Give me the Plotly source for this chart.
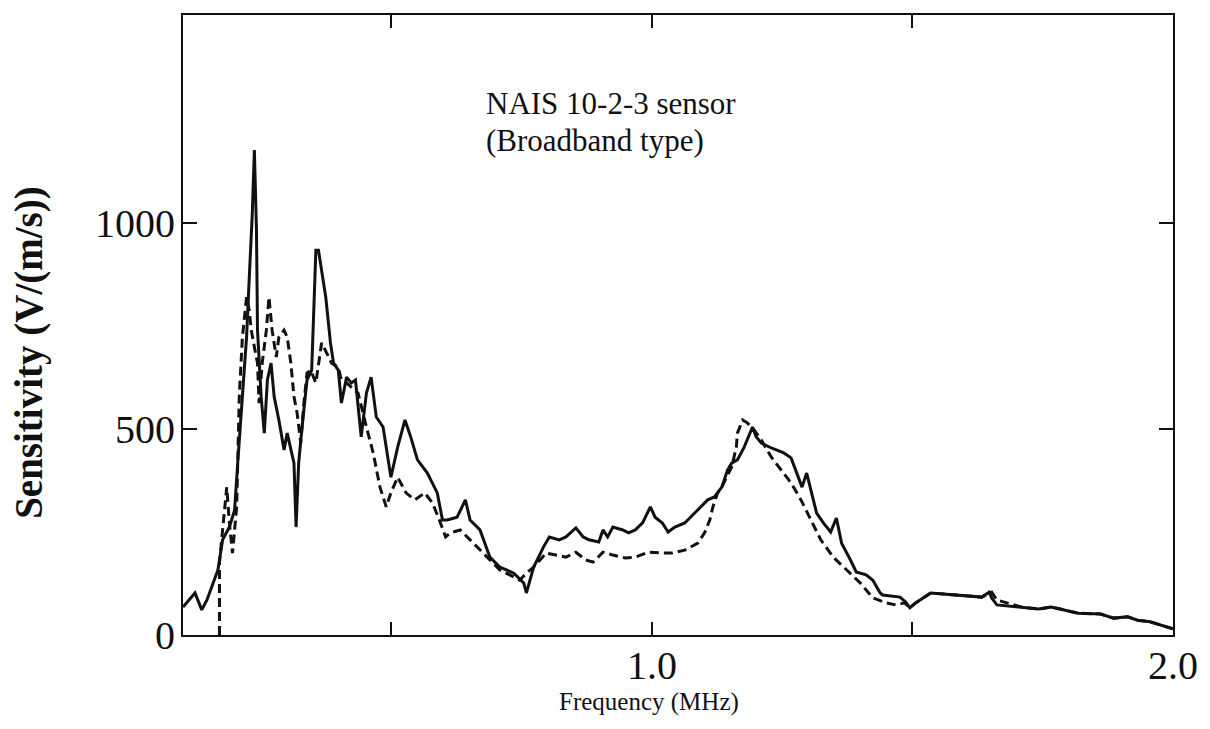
import plotly.graph_objects as go

# Frequency (MHz) and sensitivity (V/(m/s))
solid_x = [0.100, 0.123, 0.136, 0.146, 0.167, 0.176, 0.189, 0.199, 0.205, 0.214,
           0.222, 0.227, 0.233, 0.237, 0.241, 0.243, 0.246, 0.250, 0.256, 0.262,
           0.269, 0.275, 0.284, 0.294, 0.300, 0.313, 0.317, 0.322, 0.328, 0.338,
           0.347, 0.355, 0.360, 0.374, 0.383, 0.389, 0.398, 0.404, 0.414, 0.423,
           0.431, 0.442, 0.452, 0.461, 0.471, 0.484, 0.499, 0.512, 0.526, 0.537,
           0.550, 0.569, 0.588, 0.598, 0.607, 0.626, 0.642, 0.651, 0.670, 0.689,
           0.708, 0.735, 0.754, 0.759, 0.773, 0.792, 0.803, 0.822, 0.835, 0.854,
           0.868, 0.879, 0.898, 0.906, 0.915, 0.925, 0.944, 0.955, 0.968, 0.982,
           0.997, 1.006, 1.020, 1.031, 1.044, 1.063, 1.082, 1.107, 1.120, 1.134,
           1.145, 1.153, 1.164, 1.177, 1.193, 1.200, 1.210, 1.229, 1.253, 1.267,
           1.278, 1.288, 1.297, 1.307, 1.316, 1.329, 1.343, 1.354, 1.364, 1.381,
           1.392, 1.411, 1.424, 1.438, 1.443, 1.476, 1.487, 1.495, 1.506, 1.535,
           1.582, 1.633, 1.647, 1.652, 1.662, 1.709, 1.742, 1.766, 1.791, 1.818,
           1.861, 1.886, 1.913, 1.932, 1.956, 1.975, 1.994, 2.000]
solid_y = [68, 102, 61, 85, 158, 231, 262, 303, 417, 578,
           723, 862, 1024, 1177, 983, 740, 675, 578, 490, 619,
           660, 578, 522, 449, 490, 417, 262, 417, 498, 619,
           643, 934, 934, 820, 709, 660, 643, 563, 626, 612,
           619, 481, 587, 626, 529, 505, 383, 456, 522, 481,
           425, 393, 345, 279, 279, 286, 328, 279, 255, 189,
           165, 150, 126, 102, 165, 214, 238, 231, 238, 260,
           238, 231, 226, 255, 238, 262, 255, 248, 255, 272,
           311, 286, 272, 250, 262, 272, 296, 328, 335, 359,
           400, 417, 425, 456, 505, 481, 466, 454, 442, 430,
           393, 359, 393, 345, 296, 272, 250, 284, 223, 182,
           153, 146, 133, 102, 97, 92, 80, 66, 78, 102,
           97, 92, 104, 90, 73, 68, 63, 68, 61, 53,
           51, 41, 44, 36, 32, 24, 17, 15]

dashed_x = [0.170, 0.170, 0.176, 0.184, 0.189, 0.195, 0.203, 0.205, 0.208, 0.214,
            0.222, 0.227, 0.231, 0.237, 0.243, 0.246, 0.252, 0.260, 0.265, 0.271,
            0.279, 0.284, 0.294, 0.300, 0.307, 0.313, 0.319, 0.326, 0.332, 0.338,
            0.345, 0.355, 0.360, 0.366, 0.376, 0.385, 0.398, 0.404, 0.414, 0.423,
            0.436, 0.452, 0.465, 0.478, 0.490, 0.499, 0.512, 0.528, 0.545, 0.564,
            0.579, 0.592, 0.604, 0.613, 0.632, 0.651, 0.670, 0.689, 0.708, 0.735,
            0.746, 0.759, 0.773, 0.797, 0.816, 0.835, 0.854, 0.873, 0.887, 0.906,
            0.925, 0.949, 0.968, 0.993, 1.020, 1.039, 1.063, 1.088, 1.101, 1.111,
            1.117, 1.126, 1.134, 1.153, 1.162, 1.164, 1.174, 1.183, 1.196, 1.210,
            1.229, 1.248, 1.267, 1.286, 1.305, 1.324, 1.348, 1.373, 1.400, 1.424,
            1.449, 1.468, 1.485, 1.495, 1.506, 1.535, 1.582, 1.633, 1.652, 1.662,
            1.709, 1.742, 1.766, 1.791, 1.818, 1.861, 1.886, 1.913, 1.932, 1.956,
            1.975, 1.994, 2.000]
dashed_y = [0, 175, 255, 359, 272, 199, 311, 417, 578, 723,
            820, 789, 740, 699, 660, 563, 660, 740, 820, 740,
            675, 723, 740, 723, 660, 578, 539, 466, 563, 636,
            643, 612, 660, 709, 684, 660, 650, 619, 612, 602,
            587, 505, 442, 359, 311, 345, 383, 345, 328, 345,
            320, 279, 238, 248, 255, 231, 206, 182, 158, 141,
            133, 150, 165, 199, 194, 189, 201, 182, 177, 201,
            194, 187, 189, 201, 199, 199, 206, 223, 248, 279,
            311, 345, 359, 408, 456, 490, 522, 515, 498, 473,
            432, 400, 369, 328, 279, 231, 189, 158, 126, 90,
            78, 73, 78, 66, 78, 102, 97, 92, 104, 85,
            68, 63, 68, 61, 53, 51, 41, 44, 36, 32,
            24, 17, 15]

x_ticks = [1.0, 2.0]
x_tick_labels = ["1.0", "2.0"]
x_minor_ticks = [0.5, 1.5]
y_ticks = [0, 500, 1000]
y_tick_labels = ["0", "500", "1000"]

SERIF = "Liberation Serif, Times New Roman, serif"
INK = "#111111"

fig = go.Figure()
fig.add_trace(go.Scatter(x=dashed_x, y=dashed_y, mode="lines",
                         line=dict(color=INK, width=3, dash="9px,5px"),
                         showlegend=False))
fig.add_trace(go.Scatter(x=solid_x, y=solid_y, mode="lines",
                         line=dict(color=INK, width=3),
                         showlegend=False))

fig.update_layout(
    width=1210, height=729,
    margin=dict(l=183, r=27, t=15, b=94),
    paper_bgcolor="white", plot_bgcolor="white",
    font=dict(family=SERIF, color=INK),
    xaxis=dict(range=[0.1, 2.0], showgrid=False, zeroline=False,
               showline=True, linecolor=INK, linewidth=2, mirror="ticks",
               ticks="inside", ticklen=13, tickwidth=1.5, tickcolor=INK,
               tickvals=x_ticks, ticktext=x_tick_labels,
               tickfont=dict(size=40, family=SERIF),
               ticklabelstandoff=-6,
               minor=dict(tickvals=x_minor_ticks, ticks="inside", ticklen=13,
                          tickwidth=1.5, tickcolor=INK)),
    yaxis=dict(range=[0, 1505], showgrid=False, zeroline=False,
               showline=True, linecolor=INK, linewidth=2, mirror="ticks",
               ticks="inside", ticklen=14, tickwidth=2, tickcolor=INK,
               tickvals=y_ticks, ticktext=y_tick_labels,
               tickfont=dict(size=40, family=SERIF),
               ticklabelstandoff=-2),
    annotations=[
        dict(text="NAIS 10-2-3 sensor", x=0.304, y=0.857, xref="paper", yref="paper",
             xanchor="left", yanchor="middle", showarrow=False,
             font=dict(size=31, family=SERIF, color=INK)),
        dict(text="(Broadband type)", x=0.304, y=0.797, xref="paper", yref="paper",
             xanchor="left", yanchor="middle", showarrow=False,
             font=dict(size=31, family=SERIF, color=INK)),
        dict(text="Frequency (MHz)", x=0.471, y=-0.108, xref="paper", yref="paper",
             xanchor="center", yanchor="middle", showarrow=False,
             font=dict(size=25, family=SERIF, color=INK)),
        dict(text="<b>Sensitivity (V/(m/s))</b>", x=-0.155, y=0.456,
             xref="paper", yref="paper", textangle=-90,
             xanchor="center", yanchor="middle", showarrow=False,
             font=dict(size=39, family=SERIF, color=INK)),
    ],
)

fig.write_html("out.html")
